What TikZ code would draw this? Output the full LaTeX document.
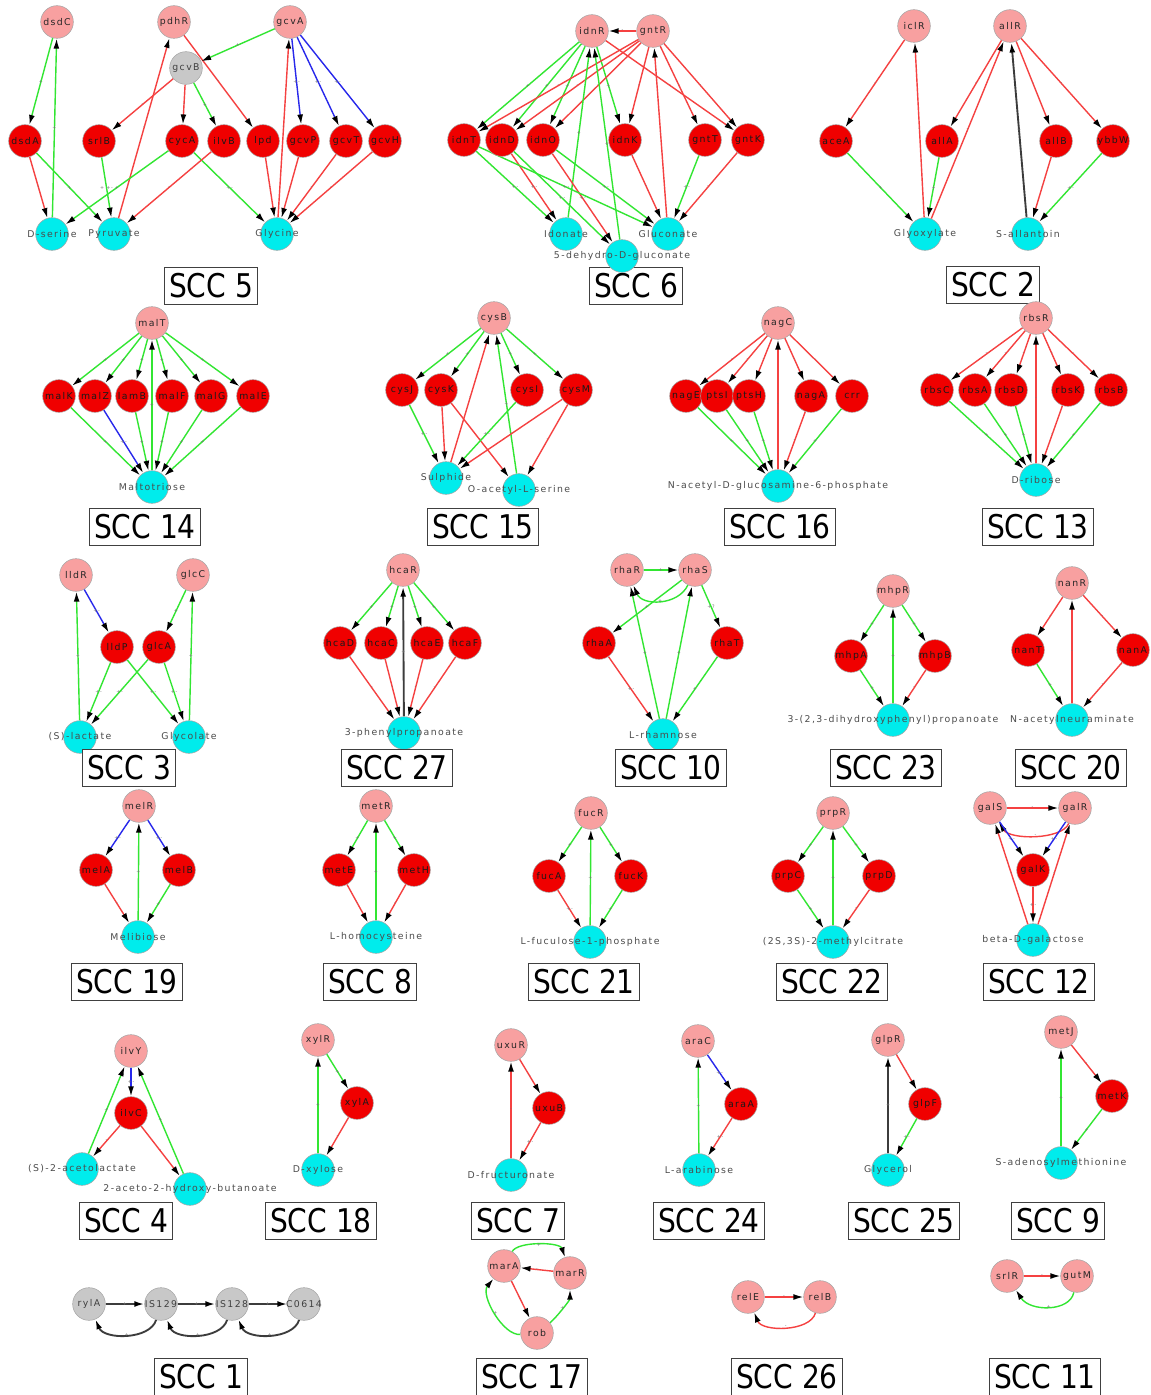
\documentclass[tikz,border=0pt]{standalone}
\usepackage{fontspec}
\setmainfont{DejaVu Sans}
\newfontfamily\lblfont[LetterSpace=15]{DejaVu Sans}
\newfontfamily\sccfont[FakeStretch=0.86]{DejaVu Sans}
\usetikzlibrary{arrows.meta}
\pgfdeclarelayer{back}
\pgfdeclarelayer{edges}
\pgfsetlayers{back,edges,main}
\definecolor{tfpink}{RGB}{248,160,160}
\definecolor{genered}{RGB}{240,0,0}
\definecolor{metcyan}{RGB}{0,236,236}
\definecolor{nodegrey}{RGB}{200,200,200}
\definecolor{egreen}{RGB}{50,230,50}
\definecolor{ered}{RGB}{245,65,65}
\definecolor{eblue}{RGB}{40,40,235}
\definecolor{eblack}{RGB}{60,60,60}
\tikzset{
  base/.style={circle, inner sep=0pt, minimum size=24.5pt, draw=black!35, line width=0.4pt, font=\lblfont\fontsize{7}{8}\selectfont},
  tf/.style={base, fill=tfpink, text=black!85},
  gn/.style={base, fill=genered, text=black!90},
  gy/.style={base, fill=nodegrey, text=black!75},
  mt/.style={base, fill=metcyan, text=black!70},
  ebase/.style={line width=1.05pt, -{Latex[length=7.5pt,width=4.4pt,color=black]}},
  act/.style={ebase, draw=egreen},
  rep/.style={ebase, draw=ered},
  dual/.style={ebase, draw=eblue},
  unk/.style={ebase, draw=eblack, line width=1.4pt},
  lab/.style={font=\lblfont\fontsize{3.6}{4}\selectfont, text=black!55, inner sep=0.5pt},
  scc/.style={draw=black!75, line width=0.9pt, fill=white, font=\sccfont\fontsize{24.5}{26}\selectfont, inner xsep=3.6pt, inner ysep=0pt, minimum height=27.5pt, text=black}
}
\newcommand\mynode[4]{\node[#1] (#2) at (#3) {\makebox[0pt]{#4}};}
\newcommand\eact[3][+]{\draw[act] (#2) -- node[lab]{#1} (#3);}
\newcommand\erep[3][-]{\draw[rep] (#2) -- node[lab]{#1} (#3);}
\newcommand\edual[3][+-]{\draw[dual] (#2) -- node[lab]{#1} (#3);}
\newcommand\eunk[3][+]{\draw[unk] (#2) -- node[lab]{#1} (#3);}
\newcommand\cact[4]{\draw[act] (#1) .. controls (#2) and (#3) .. node[lab]{+} (#4);}
\newcommand\crep[4]{\draw[rep] (#1) .. controls (#2) and (#3) .. node[lab]{-} (#4);}
\newcommand\cunk[4]{\draw[unk] (#1) .. controls (#2) and (#3) .. node[lab]{+} (#4);}
\newcommand\sccbox[2]{\node[scc] (s#1) at (#2) {SCC #1};}
\begin{document}
\begin{tikzpicture}[x=0.75pt,y=-0.75pt]
\begin{pgfonlayer}{back}
\fill[white] (0,0) rectangle (1151,1395);
\end{pgfonlayer}
\useasboundingbox (0,0) rectangle (1151,1395);
% ================= SCC 5
\mynode{tf}{dsdC}{57,22}{dsdC}
\mynode{tf}{pdhR}{174,22}{pdhR}
\mynode{tf}{gcvA}{290,22}{gcvA}
\mynode{gy}{gcvB}{186,68}{gcvB}
\mynode{gn}{dsdA}{25,141}{dsdA}
\mynode{gn}{srlB}{99,141}{srlB}
\mynode{gn}{cycA}{182,141}{cycA}
\mynode{gn}{ilvB}{224,141}{ilvB}
\mynode{gn}{lpd}{263,141}{lpd}
\mynode{gn}{gcvP}{303,141}{gcvP}
\mynode{gn}{gcvT}{346,141}{gcvT}
\mynode{gn}{gcvH}{385,141}{gcvH}
\mynode{mt}{Dser}{52,234}{D-serine}
\mynode{mt}{Pyr}{114,234}{Pyruvate}
\mynode{mt}{Gly}{277,234}{Glycine}
\sccbox{5}{211,286}
% ================= SCC 6
\mynode{tf}{idnR}{592,31}{idnR}
\mynode{tf}{gntR}{653,31}{gntR}
\mynode{gn}{idnT}{464,140}{idnT}
\mynode{gn}{idnD}{502,140}{idnD}
\mynode{gn}{idnO}{543,140}{idnO}
\mynode{gn}{idnK}{625,140}{idnK}
\mynode{gn}{gntT}{705,140}{gntT}
\mynode{gn}{gntK}{748,140}{gntK}
\sccbox{6}{636,286}
\mynode{mt}{Idon}{566,234}{Idonate}
\mynode{mt}{Glcn}{668,234}{Gluconate}
\mynode{mt}{dhg}{622,256}{5-dehydro-D-gluconate}
% ================= SCC 2
\mynode{tf}{iclR}{914,26}{iclR}
\mynode{tf}{allR}{1010,26}{allR}
\mynode{gn}{aceA}{836,141}{aceA}
\mynode{gn}{allA}{942,141}{allA}
\mynode{gn}{allB}{1056,141}{allB}
\mynode{gn}{ybbW}{1113,141}{ybbW}
\mynode{mt}{Glyox}{925,234}{Glyoxylate}
\mynode{mt}{Sall}{1028,234}{S-allantoin}
\sccbox{2}{993,285}
% ================= SCC 14
\mynode{tf}{malT}{152,323}{malT}
\mynode{gn}{malK}{59,396}{malK}
\mynode{gn}{malZ}{95,396}{malZ}
\mynode{gn}{lamB}{132,396}{lamB}
\mynode{gn}{malF}{172,396}{malF}
\mynode{gn}{malG}{211,396}{malG}
\mynode{gn}{malE}{253,396}{malE}
\mynode{mt}{Malt}{152,487}{Maltotriose}
\sccbox{14}{145,527}
% ================= SCC 15
\mynode{tf}{cysB}{494,318}{cysB}
\mynode{gn}{cysJ}{402,390}{cysJ}
\mynode{gn}{cysK}{441,390}{cysK}
\mynode{gn}{cysI}{527,390}{cysI}
\mynode{gn}{cysM}{576,390}{cysM}
\mynode{mt}{Sulph}{446,478}{Sulphide}
\mynode{mt}{OAS}{519,490}{O-acetyl-L-serine}
\sccbox{15}{483,527}
% ================= SCC 16
\mynode{tf}{nagC}{778,323}{nagC}
\mynode{gn}{nagE}{686,396}{nagE}
\mynode{gn}{ptsI}{717,396}{ptsI}
\mynode{gn}{ptsH}{749,396}{ptsH}
\mynode{gn}{nagA}{811,396}{nagA}
\mynode{gn}{crr}{852,396}{crr}
\mynode{mt}{NAG}{778,486}{N-acetyl-D-glucosamine-6-phosphate}
\sccbox{16}{780,527}
% ================= SCC 13
\mynode{tf}{rbsR}{1036,318}{rbsR}
\mynode{gn}{rbsC}{937,390}{rbsC}
\mynode{gn}{rbsA}{975,390}{rbsA}
\mynode{gn}{rbsD}{1011,390}{rbsD}
\mynode{gn}{rbsK}{1068,390}{rbsK}
\mynode{gn}{rbsB}{1111,390}{rbsB}
\mynode{mt}{Rib}{1036,480}{D-ribose}
\sccbox{13}{1038,527}
% ================= SCC 3
\mynode{tf}{lldR}{76,575}{lldR}
\mynode{tf}{glcC}{193,575}{glcC}
\mynode{gn}{lldP}{117,647}{lldP}
\mynode{gn}{glcA}{159,647}{glcA}
\mynode{mt}{Slac}{80,737}{(S)-lactate}
\mynode{mt}{Glyc}{189,737}{Glycolate}
\sccbox{3}{129,768}
% ================= SCC 27
\mynode{tf}{hcaR}{403,570}{hcaR}
\mynode{gn}{hcaD}{340,643}{hcaD}
\mynode{gn}{hcaC}{381,643}{hcaC}
\mynode{gn}{hcaE}{427,643}{hcaE}
\mynode{gn}{hcaF}{465,643}{hcaF}
\mynode{mt}{PPA}{404,733}{3-phenylpropanoate}
\sccbox{27}{397,768}
% ================= SCC 10
\mynode{tf}{rhaR}{627,570}{rhaR}
\mynode{tf}{rhaS}{695,570}{rhaS}
\mynode{gn}{rhaA}{599,643}{rhaA}
\mynode{gn}{rhaT}{727,643}{rhaT}
\mynode{mt}{Rham}{663,735}{L-rhamnose}
\sccbox{10}{671,768}
% ================= SCC 23
\mynode{tf}{mhpR}{893,591}{mhpR}
\mynode{gn}{mhpA}{851,656}{mhpA}
\mynode{gn}{mhpB}{935,656}{mhpB}
\mynode{mt}{DHPP}{893,720}{3-(2,3-dihydroxyphenyl)propanoate}
\sccbox{23}{886,768}
% ================= SCC 20
\mynode{tf}{nanR}{1072,583}{nanR}
\mynode{gn}{nanT}{1028,650}{nanT}
\mynode{gn}{nanA}{1133,650}{nanA}
\mynode{mt}{Neu}{1072,720}{N-acetylneuraminate}
\sccbox{20}{1071,768}
% ================= SCC 19
\mynode{tf}{melR}{139,806}{melR}
\mynode{gn}{melA}{96,870}{melA}
\mynode{gn}{melB}{179,870}{melB}
\mynode{mt}{Meli}{138,937}{Melibiose}
\sccbox{19}{127,982}
% ================= SCC 8
\mynode{tf}{metR}{376,806}{metR}
\mynode{gn}{metE}{339,870}{metE}
\mynode{gn}{metH}{414,870}{metH}
\mynode{mt}{Hcys}{376,937}{L-homocysteine}
\sccbox{8}{370,982}
% ================= SCC 21
\mynode{tf}{fucR}{591,813}{fucR}
\mynode{gn}{fucA}{549,876}{fucA}
\mynode{gn}{fucK}{631,876}{fucK}
\mynode{mt}{Fucp}{590,942}{L-fuculose-1-phosphate}
\sccbox{21}{584,982}
% ================= SCC 22
\mynode{tf}{prpR}{833,813}{prpR}
\mynode{gn}{prpC}{788,876}{prpC}
\mynode{gn}{prpD}{879,876}{prpD}
\mynode{mt}{Mcit}{833,942}{(2S,3S)-2-methylcitrate}
\sccbox{22}{832,982}
% ================= SCC 12
\mynode{tf}{galS}{990,808}{galS}
\mynode{tf}{galR}{1075,808}{galR}
\mynode{gn}{galK}{1033,870}{galK}
\mynode{mt}{Gal}{1033,940}{beta-D-galactose}
\sccbox{12}{1039,982}
% ================= SCC 4
\mynode{tf}{ilvY}{131,1051}{ilvY}
\mynode{gn}{ilvC}{131,1113}{ilvC}
\mynode{mt}{Acl}{82,1169}{(S)-2-acetolactate}
\mynode{mt}{Ahb}{190,1189}{2-aceto-2-hydroxy-butanoate}
\sccbox{4}{126,1221}
% ================= SCC 18
\mynode{tf}{xylR}{318,1040}{xylR}
\mynode{gn}{xylA}{357,1103}{xylA}
\mynode{mt}{Xyl}{318,1170}{D-xylose}
\sccbox{18}{321,1221}
% ================= SCC 7
\mynode{tf}{uxuR}{511,1045}{uxuR}
\mynode{gn}{uxuB}{549,1108}{uxuB}
\mynode{mt}{Fru}{511,1175}{D-fructuronate}
\sccbox{7}{518,1221}
% ================= SCC 24
\mynode{tf}{araC}{698,1041}{araC}
\mynode{gn}{araA}{741,1104}{araA}
\mynode{mt}{Ara}{699,1170}{L-arabinose}
\sccbox{24}{709,1221}
% ================= SCC 25
\mynode{tf}{glpR}{888,1040}{glpR}
\mynode{gn}{glpF}{925,1104}{glpF}
\mynode{mt}{Glyl}{888,1170}{Glycerol}
\sccbox{25}{904,1221}
% ================= SCC 9
\mynode{tf}{metJ}{1061,1032}{metJ}
\mynode{gn}{metK}{1112,1096}{metK}
\mynode{mt}{SAM}{1061,1163}{S-adenosylmethionine}
\sccbox{9}{1058,1221}
% ================= SCC 1
\mynode{gy}{rylA}{89,1304}{rylA}
\mynode{gy}{ISa}{161,1304}{IS129}
\mynode{gy}{ISb}{232,1304}{IS128}
\mynode{gy}{Cz}{304,1304}{C0614}
\sccbox{1}{201,1377}
% ================= SCC 17
\mynode{tf}{marA}{504,1266}{marA}
\mynode{tf}{marR}{570,1273}{marR}
\mynode{tf}{rob}{537,1333}{rob}
\sccbox{17}{532,1377}
% ================= SCC 26
\mynode{tf}{relE}{748,1297}{relE}
\mynode{tf}{relB}{820,1297}{relB}
\sccbox{26}{787,1377}
% ================= SCC 11
\mynode{tf}{srlR}{1007,1276}{srlR}
\mynode{tf}{gutM}{1077,1276}{gutM}
\sccbox{11}{1045,1377}

\begin{pgfonlayer}{edges}
% SCC 5
\eact{dsdC}{dsdA}
\eact{Dser}{dsdC}
\erep{pdhR}{lpd}
\erep{Pyr}{pdhR}
\eact{gcvA}{gcvB}
\edual{gcvA}{gcvP}
\edual{gcvA}{gcvT}
\edual{gcvA}{gcvH}
\erep{Gly}{gcvA}
\erep{gcvB}{srlB}
\erep{gcvB}{cycA}
\eact{gcvB}{ilvB}
\erep{dsdA}{Dser}
\eact{dsdA}{Pyr}
\eact[+ +-]{srlB}{Pyr}
\eact{cycA}{Dser}
\eact[+-]{cycA}{Gly}
\erep{ilvB}{Pyr}
\erep{lpd}{Gly}
\erep{gcvP}{Gly}
\erep{gcvT}{Gly}
\erep{gcvH}{Gly}
% SCC 6
\erep{gntR}{idnR}
\eact{idnR}{idnT}
\eact{idnR}{idnD}
\eact{idnR}{idnO}
\eact{idnR}{idnK}
\erep{idnR}{gntK}
\erep{gntR}{idnT}
\erep{gntR}{idnD}
\erep{gntR}{idnO}
\erep{gntR}{idnK}
\erep{gntR}{gntT}
\erep{gntR}{gntK}
\eact{Idon}{idnR}
\eact{dhg}{idnR}
\erep{Glcn}{gntR}
\eact[+-]{idnT}{Idon}
\erep[+-]{idnD}{Idon}
\eact[+-]{idnD}{dhg}
\erep[+-]{idnO}{dhg}
\eact[+-]{idnT}{Glcn}
\eact[+-]{idnO}{Glcn}
\erep{idnK}{Glcn}
\eact[+-]{gntT}{Glcn}
\erep{gntK}{Glcn}
% SCC 2
\erep{iclR}{aceA}
\erep{Glyox}{iclR}
\erep{allR}{allA}
\erep{Glyox}{allR}
\eunk{Sall}{allR}
\erep{allR}{allB}
\erep{allR}{ybbW}
\eact{aceA}{Glyox}
\eact{allA}{Glyox}
\erep{allB}{Sall}
\eact[+-]{ybbW}{Sall}
% SCC 14
\eact{malT}{malK}
\eact{malT}{malZ}
\eact{malT}{lamB}
\eact{malT}{malF}
\eact{malT}{malG}
\eact{malT}{malE}
\eact{malK}{Malt}
\edual{malZ}{Malt}
\eact{lamB}{Malt}
\eact{malF}{Malt}
\eact{malG}{Malt}
\eact{malE}{Malt}
\eact{Malt}{malT}
% SCC 15
\eact{cysB}{cysJ}
\eact{cysB}{cysK}
\eact{cysB}{cysI}
\eact{cysB}{cysM}
\erep{Sulph}{cysB}
\eact{OAS}{cysB}
\eact[+-]{cysJ}{Sulph}
\erep{cysK}{Sulph}
\erep{cysK}{OAS}
\eact[+-]{cysI}{Sulph}
\erep{cysM}{Sulph}
\erep{cysM}{OAS}
% SCC 16
\erep{nagC}{nagE}
\erep{nagC}{ptsI}
\erep{nagC}{ptsH}
\erep{nagC}{nagA}
\erep{nagC}{crr}
\eact{nagE}{NAG}
\eact{ptsI}{NAG}
\eact{ptsH}{NAG}
\erep{nagA}{NAG}
\eact{crr}{NAG}
\erep{NAG}{nagC}
% SCC 13
\erep{rbsR}{rbsC}
\erep{rbsR}{rbsA}
\erep{rbsR}{rbsD}
\erep{rbsR}{rbsK}
\erep{rbsR}{rbsB}
\eact{rbsC}{Rib}
\eact{rbsA}{Rib}
\eact{rbsD}{Rib}
\erep{rbsK}{Rib}
\eact{rbsB}{Rib}
\erep{Rib}{rbsR}
% SCC 3
\edual{lldR}{lldP}
\eact{glcC}{glcA}
\eact{Slac}{lldR}
\eact{Glyc}{glcC}
\eact[+-]{lldP}{Slac}
\eact[+-]{lldP}{Glyc}
\eact[+-]{glcA}{Slac}
\eact[+-]{glcA}{Glyc}
% SCC 27
\eact{hcaR}{hcaD}
\eact{hcaR}{hcaC}
\eact{hcaR}{hcaE}
\eact{hcaR}{hcaF}
\erep{hcaD}{PPA}
\erep{hcaC}{PPA}
\erep{hcaE}{PPA}
\erep{hcaF}{PPA}
\eunk{PPA}{hcaR}
% SCC 10
\eact{rhaR}{rhaS}
\cact{rhaS}{678,606}{642,606}{rhaR}
\eact{rhaS}{rhaA}
\eact[+?]{rhaS}{rhaT}
\erep[+-]{rhaA}{Rham}
\eact{rhaT}{Rham}
\eact{Rham}{rhaR}
\eact{Rham}{rhaS}
% SCC 23
\eact{mhpR}{mhpA}
\eact{mhpR}{mhpB}
\eact{mhpA}{DHPP}
\erep{mhpB}{DHPP}
\eact{DHPP}{mhpR}
% SCC 20
\erep{nanR}{nanT}
\erep{nanR}{nanA}
\eact{nanT}{Neu}
\erep{nanA}{Neu}
\erep{Neu}{nanR}
% SCC 19
\edual{melR}{melA}
\edual{melR}{melB}
\erep{melA}{Meli}
\eact{melB}{Meli}
\eact{Meli}{melR}
% SCC 8
\eact{metR}{metE}
\eact{metR}{metH}
\erep{metE}{Hcys}
\erep{metH}{Hcys}
\eact{Hcys}{metR}
% SCC 21
\eact{fucR}{fucA}
\eact{fucR}{fucK}
\erep[+-]{fucA}{Fucp}
\eact{fucK}{Fucp}
\eact{Fucp}{fucR}
% SCC 22
\eact{prpR}{prpC}
\eact{prpR}{prpD}
\eact{prpC}{Mcit}
\erep{prpD}{Mcit}
\eact{Mcit}{prpR}
% SCC 12
\erep{galS}{galR}
\crep{galR}{1062,840}{1010,840}{galS}
\edual{galS}{galK}
\edual{galR}{galK}
\erep[+-]{galK}{Gal}
\erep{Gal}{galS}
\erep{Gal}{galR}
% SCC 4
\edual{ilvY}{ilvC}
\erep{ilvC}{Acl}
\erep{ilvC}{Ahb}
\eact{Acl}{ilvY}
\eact{Ahb}{ilvY}
% SCC 18
\eact{xylR}{xylA}
\erep{xylA}{Xyl}
\eact{Xyl}{xylR}
% SCC 7
\erep{uxuR}{uxuB}
\erep[+-]{uxuB}{Fru}
\erep{Fru}{uxuR}
% SCC 24
\edual{araC}{araA}
\erep[+-]{araA}{Ara}
\eact{Ara}{araC}
% SCC 25
\erep{glpR}{glpF}
\eact[+-]{glpF}{Glyl}
\eunk{Glyl}{glpR}
% SCC 9
\erep{metJ}{metK}
\eact{metK}{SAM}
\eact{SAM}{metJ}
% SCC 1
\eunk{rylA}{ISa}
\eunk{ISa}{ISb}
\eunk{ISb}{Cz}
\cunk{ISa}{150,1340}{104,1340}{rylA}
\cunk{ISb}{221,1340}{175,1340}{ISa}
\cunk{Cz}{293,1340}{247,1340}{ISb}
% SCC 17
\erep{marR}{marA}
\cact{marA}{518,1241}{560,1242}{marR}
\erep{marA}{rob}
\cact{rob}{503,1336}{480,1295}{marA}
\cact{rob}{556,1318}{570,1300}{marR}
% SCC 26
\erep{relE}{relB}
\crep{relB}{810,1332}{762,1332}{relE}
% SCC 11
\erep{srlR}{gutM}
\cact{gutM}{1070,1312}{1030,1312}{srlR}
\end{pgfonlayer}
\end{tikzpicture}
\end{document}
